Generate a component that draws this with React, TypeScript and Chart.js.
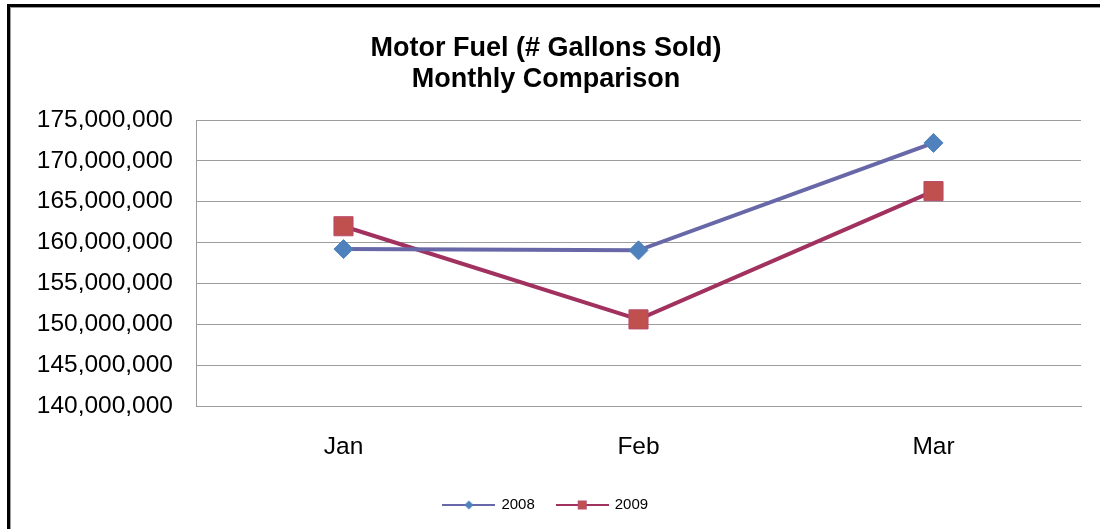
import React, { useEffect, useRef } from "react";
import { Chart, registerables } from "chart.js";

Chart.register(...registerables);

const categories = ["Jan", "Feb", "Mar"];
const series2008 = [159200000, 159050000, 172200000];
const series2009 = [162000000, 150600000, 166300000];
const seriesNames = ["2008", "2009"];
const titleLines = ["Motor Fuel (# Gallons Sold)", "Monthly Comparison"];
const yMin = 140000000;
const yMax = 175000000;
const yStep = 5000000;

const FONT = "'Liberation Sans', Arial, Helvetica, sans-serif";
const C2008_LINE = "#6868a8";
const C2008_MARK = "#4f81bd";
const C2009_LINE = "#a1325f";
const C2009_MARK = "#c0504d";
const C2009_MARK_BORDER = "#b84a6c";
const GRID = "#9c9c9c";

function makeLegendImage(kind: "diamond" | "square"): HTMLCanvasElement {
  const c = document.createElement("canvas");
  c.width = 53;
  c.height = 16;
  const ctx = c.getContext("2d")!;
  ctx.lineWidth = 2;
  ctx.strokeStyle = kind === "diamond" ? C2008_LINE : C2009_LINE;
  ctx.beginPath();
  ctx.moveTo(0, 8);
  ctx.lineTo(53, 8);
  ctx.stroke();
  if (kind === "diamond") {
    ctx.fillStyle = C2008_MARK;
    ctx.beginPath();
    ctx.moveTo(26.5 - 4.5, 8);
    ctx.lineTo(26.5, 8 - 4.5);
    ctx.lineTo(26.5 + 4.5, 8);
    ctx.lineTo(26.5, 8 + 4.5);
    ctx.closePath();
    ctx.fill();
  } else {
    ctx.fillStyle = C2009_MARK;
    ctx.strokeStyle = C2009_MARK_BORDER;
    ctx.lineWidth = 1;
    ctx.fillRect(22.5, 4, 8, 8);
    ctx.strokeRect(22.5, 4, 8, 8);
  }
  return c;
}

export default function App() {
  const ref = useRef<HTMLCanvasElement | null>(null);

  useEffect(() => {
    if (!ref.current) return;
    const img2008 = makeLegendImage("diamond");
    const img2009 = makeLegendImage("square");
    const chart = new Chart(ref.current, {
      type: "line",
      data: {
        labels: categories,
        datasets: [
          {
            label: seriesNames[0],
            data: series2008,
            borderColor: C2008_LINE,
            borderWidth: 4,
            backgroundColor: C2008_MARK,
            pointStyle: "rectRot",
            pointRadius: 9.5,
            pointBorderColor: C2008_MARK,
            pointBackgroundColor: C2008_MARK,
            pointBorderWidth: 1,
            tension: 0,
          },
          {
            label: seriesNames[1],
            data: series2009,
            borderColor: C2009_LINE,
            borderWidth: 4,
            backgroundColor: C2009_MARK,
            pointStyle: "rect",
            pointRadius: 13.5,
            pointBorderColor: C2009_MARK_BORDER,
            pointBackgroundColor: C2009_MARK,
            pointBorderWidth: 1,
            tension: 0,
          },
        ],
      },
      options: {
        animation: false,
        responsive: false,
        maintainAspectRatio: false,
        layout: { padding: { left: 11, right: 19, top: 0, bottom: 6.5 } },
        plugins: {
          title: {
            display: true,
            text: titleLines,
            color: "#000",
            font: { family: FONT, size: 27, weight: "bold", lineHeight: 1.15 },
            padding: { top: 33, bottom: 24.9 },
          },
          legend: {
            display: true,
            position: "bottom",
            labels: {
              usePointStyle: true,
              pointStyleWidth: 50,
              padding: 22.5,
              color: "#222",
              font: { family: FONT, size: 15 },
              generateLabels: () => [
                {
                  text: seriesNames[0],
                  pointStyle: img2008 as any,
                  fillStyle: C2008_MARK,
                  strokeStyle: C2008_LINE,
                  lineWidth: 0,
                  hidden: false,
                  datasetIndex: 0,
                },
                {
                  text: seriesNames[1],
                  pointStyle: img2009 as any,
                  fillStyle: C2009_MARK,
                  strokeStyle: C2009_LINE,
                  lineWidth: 0,
                  hidden: false,
                  datasetIndex: 1,
                },
              ],
            },
          },
          tooltip: { enabled: false },
        },
        scales: {
          x: {
            offset: true,
            grid: { display: false, drawTicks: false },
            border: { display: true, color: GRID, width: 1 },
            ticks: {
              color: "#000",
              font: { family: FONT, size: 24.5 },
              padding: 26.5,
            },
            afterFit: (s: any) => {
              s.height = 69;
            },
          },
          y: {
            min: yMin,
            max: yMax,
            grid: { color: GRID, lineWidth: 1, drawTicks: false },
            border: { display: true, color: GRID, width: 1 },
            ticks: {
              stepSize: yStep,
              color: "#000",
              font: { family: FONT, size: 24.5 },
              padding: 23,
              callback: (v: any) => Number(v).toLocaleString("en-US"),
            },
            afterFit: (s: any) => {
              s.width = 185;
            },
          },
        },
      },
    });
    return () => chart.destroy();
  }, []);

  return (
    <div
      style={{
        position: "fixed",
        left: 0,
        top: 0,
        width: 1100,
        height: 529,
        overflow: "hidden",
        background: "#fff",
      }}
    >
      <div
        style={{
          position: "absolute",
          left: 7,
          top: 4,
          width: 1200,
          height: 600,
          borderLeft: "3px solid #000",
          borderTop: "3px solid #000",
          boxShadow: "inset 1px 1px 0 #9a9a9a",
        }}
      />
      <canvas
        ref={ref}
        width={1100}
        height={529}
        style={{ position: "absolute", left: 0, top: 0, width: 1100, height: 529 }}
      />
    </div>
  );
}
